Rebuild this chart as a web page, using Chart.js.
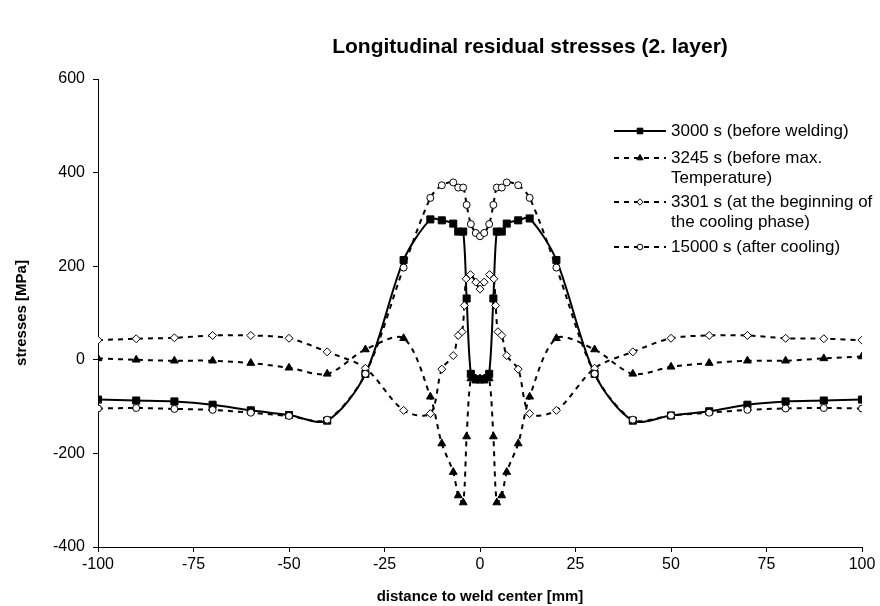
<!DOCTYPE html>
<html>
<head>
<meta charset="utf-8">
<script src="https://cdn.jsdelivr.net/npm/chart.js@4.4.0/dist/chart.umd.min.js"></script>
<style>
  html, body { margin: 0; padding: 0; background: #fff; }
</style>
</head>
<body>
<canvas id="chart" width="880" height="606"></canvas>
<script>
// distance to weld center [mm]
const dist = [-100, -90, -80, -70, -60, -50, -40, -30, -20, -13, -10, -7, -5.7, -4.4, -3.5, -2.4, -1.1, 0,
  1.1, 2.4, 3.5, 4.4, 5.7, 7, 10, 13, 20, 30, 40, 50, 60, 70, 80, 90, 100];
const dist3301 = [-100, -90, -80, -70, -60, -50, -40, -30, -20, -13, -10, -7, -5.7, -4.7, -4.1, -3.6, -2.5, -1.1, 0,
  1.1, 2.5, 3.6, 4.1, 4.7, 5.7, 7, 10, 13, 20, 30, 40, 50, 60, 70, 80, 90, 100];

// stresses [MPa]
const s3000 = [-85, -87, -89, -96, -108, -118, -130, -30, 213, 300, 298, 291, 274, 274, 131, -30, -42, -42,
  -42, -30, 131, 274, 274, 291, 298, 302, 213, -30, -130, -119, -110, -96, -89, -87, -85];
const s3245 = [3, 0, -2, -2, -7, -17, -30, 22, 46, -79, -179, -240, -290, -305, -164, -40, -40, -40,
  -40, -40, -164, -305, -290, -240, -179, -79, 46, 22, -30, -15, -7, -2, -2, 3, 7];
const s3301 = [42, 45, 47, 52, 52, 46, 17, -18, -108, -115, -20, 9, 52, 60, 116, 173, 182, 166, 151,
  166, 182, 173, 116, 60, 52, 9, -20, -115, -108, -18, 17, 46, 52, 52, 46, 45, 42];
const s15000 = [-104, -103, -105, -107, -113, -120, -128, -30, 197, 346, 373, 379, 368, 368, 331, 290, 271, 264,
  271, 290, 331, 368, 368, 379, 373, 346, 197, -30, -128, -119, -113, -107, -104, -103, -104];

const legendText = [
  ['3000 s (before welding)'],
  ['3245 s (before max.', 'Temperature)'],
  ['3301 s (at the beginning of', 'the cooling phase)'],
  ['15000 s (after cooling)']
];

const yTicks = [-400, -200, 0, 200, 400, 600];
const xTicks = [-100, -75, -50, -25, 0, 25, 50, 75, 100];

const FONT = 'Liberation Sans, Arial, sans-serif';

function pts(xs, ys) {
  return xs.map((x, i) => ({ x: x, y: ys[i] }));
}

// chart title, centred over plot + legend like the spreadsheet did
const titlePlugin = {
  id: 'topTitle',
  afterDraw(chart) {
    const ctx = chart.ctx;
    ctx.save();
    ctx.font = 'bold 21px ' + FONT;
    ctx.fillStyle = '#000';
    ctx.textAlign = 'center';
    ctx.textBaseline = 'middle';
    ctx.fillText('Longitudinal residual stresses (2. layer)', 530, 47);
    ctx.restore();
  }
};

// legend on the right, drawn over the plot
const legendPlugin = {
  id: 'sideLegend',
  afterDraw(chart) {
    const ctx = chart.ctx;
    const rows = [131, 158, 202, 247];
    const x1 = 614, x2 = 666, tx = 671;
    ctx.save();
    chart.data.datasets.forEach((ds, i) => {
      const y = rows[i];
      ctx.strokeStyle = '#000';
      ctx.lineWidth = 2;
      ctx.setLineDash(ds.borderDash || []);
      ctx.beginPath();
      ctx.moveTo(x1, y);
      ctx.lineTo(x2, y);
      ctx.stroke();
      ctx.setLineDash([]);
      ctx.fillStyle = ds.pointBackgroundColor;
      ctx.strokeStyle = '#000';
      ctx.lineWidth = 1;
      Chart.helpers.drawPoint(ctx, { pointStyle: ds.pointStyle, radius: ds.pointRadius * 0.8, borderWidth: 1, rotation: 0 },
        (x1 + x2) / 2, y);
      ctx.fillStyle = '#000';
      ctx.font = '17px ' + FONT;
      ctx.textAlign = 'left';
      ctx.textBaseline = 'middle';
      legendText[i].forEach((t, j) => ctx.fillText(t, tx, y + j * 20));
    });
    ctx.restore();
  }
};

const common = {
  borderColor: '#000',
  pointBorderColor: '#000',
  pointBorderWidth: 1,
  pointHoverRadius: 4,
  tension: 0.3,
  fill: false
};

new Chart(document.getElementById('chart'), {
  type: 'line',
  data: {
    datasets: [
      Object.assign({}, common, {
        label: '3000 s (before welding)',
        data: pts(dist, s3000),
        borderWidth: 2,
        pointStyle: 'rect',
        pointRadius: 5,
        pointBackgroundColor: '#000',
        order: 4
      }),
      Object.assign({}, common, {
        label: '3245 s (before max. Temperature)',
        data: pts(dist, s3245),
        borderWidth: 2,
        borderDash: [5, 5],
        pointStyle: 'triangle',
        pointRadius: 4.5,
        pointBackgroundColor: '#000',
        order: 3
      }),
      Object.assign({}, common, {
        label: '3301 s (at the beginning of the cooling phase)',
        data: pts(dist3301, s3301),
        borderWidth: 2,
        borderDash: [5, 5],
        pointStyle: 'rectRot',
        pointRadius: 4,
        pointBackgroundColor: '#fff',
        order: 2
      }),
      Object.assign({}, common, {
        label: '15000 s (after cooling)',
        data: pts(dist, s15000),
        borderWidth: 2,
        borderDash: [5, 5],
        pointStyle: 'circle',
        pointRadius: 3.5,
        pointBackgroundColor: '#fff',
        order: 1
      })
    ]
  },
  options: {
    responsive: false,
    animation: false,
    devicePixelRatio: 1,
    layout: { padding: { top: 79, right: 18, bottom: 0, left: 0 } },
    plugins: {
      legend: { display: false },
      tooltip: { enabled: false },
      title: { display: false }
    },
    scales: {
      x: {
        type: 'linear',
        min: -100,
        max: 100,
        afterFit(scale) { scale.height = 59; },
        afterBuildTicks(scale) { scale.ticks = xTicks.map(v => ({ value: v })); },
        grid: { display: true, drawOnChartArea: false, drawTicks: true, tickLength: 5, color: '#000' },
        border: { color: '#000', width: 1 },
        ticks: { color: '#000', font: { family: FONT, size: 16 }, padding: 3, maxRotation: 0 },
        title: {
          display: true,
          text: 'distance to weld center [mm]',
          color: '#000',
          font: { family: FONT, size: 15, weight: 'bold' },
          padding: { top: 6, bottom: 0 }
        }
      },
      y: {
        type: 'linear',
        min: -400,
        max: 600,
        afterFit(scale) { scale.width = 98; },
        afterBuildTicks(scale) { scale.ticks = yTicks.map(v => ({ value: v })); },
        grid: { display: true, drawOnChartArea: false, drawTicks: true, tickLength: 5, color: '#000' },
        border: { color: '#000', width: 1 },
        ticks: { color: '#000', font: { family: FONT, size: 16 }, padding: 8 },
        title: {
          display: true,
          text: 'stresses [MPa]',
          color: '#000',
          font: { family: FONT, size: 15, weight: 'bold' },
          padding: { top: 13, bottom: 0 }
        }
      }
    }
  },
  plugins: [titlePlugin, legendPlugin]
});
</script>
</body>
</html>
